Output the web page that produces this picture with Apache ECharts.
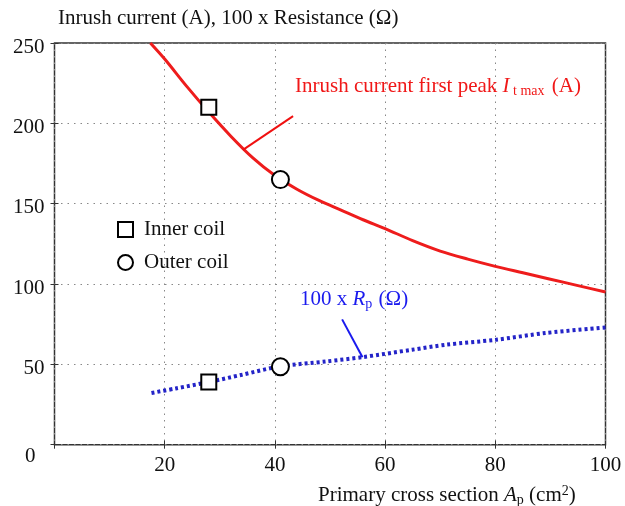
<!DOCTYPE html>
<html>
<head>
<meta charset="utf-8">
<script src="https://cdn.jsdelivr.net/npm/echarts@6/dist/echarts.min.js"></script>
<style>
  html, body { margin: 0; padding: 0; background: #fff; }
  #main { width: 625px; height: 506px; }
</style>
</head>
<body>
<div id="main"></div>
<script>
// values
const xTicks = [0, 20, 40, 60, 80, 100];
const yTicks = [0, 50, 100, 150, 200, 250];

const inrushX = [17.4, 20, 24, 28, 32, 36, 40, 44, 48, 52, 56, 60, 65, 70, 75, 80, 85, 90, 95, 100];
const inrushY = [250, 240, 223, 207, 192, 178.5, 167.5, 159, 152, 146, 140, 134.5, 127, 120.5, 115.5, 111, 107, 103, 99, 95];

const resX = [17.6, 22, 28, 34, 40.9, 49.3, 55.9, 64.9, 71, 80.1, 89.1, 100];
const resY = [32.2, 35, 39, 43.5, 48.7, 51.8, 54.5, 59.1, 62.2, 65.3, 69.5, 73];

const innerCoil = [[28, 210], [28, 39]];
const outerCoil = [[41, 165], [41, 48.5]];

// leader lines for the two annotations (data coords)
const redLeader = [[34.2, 183.5], [43.3, 204.5]];
const blueLeader = [[52.2, 78], [55.9, 54.4]];

const serif = 'Liberation Serif';
const fs = 21;

const chart = echarts.init(document.getElementById('main'));

const option = {
  backgroundColor: '#fff',
  animation: false,
  grid: {
    left: 54.5, right: 19.5, top: 43, bottom: 61.3,
    show: true, borderColor: '#333', borderWidth: 1.5
  },
  title: [{
    text: 'Inrush current (A), 100 x Resistance (Ω)',
    left: 53, top: 3,
    textStyle: { fontFamily: serif, fontSize: fs, fontWeight: 'normal', color: '#111' }
  }, {
    text: 'Primary cross section {i|A}{sub|p} (cm{sup|2})',
    left: 313, top: 479,
    textStyle: {
      fontFamily: serif, fontSize: fs, fontWeight: 'normal', color: '#111',
      rich: {
        i: { fontFamily: serif, fontSize: fs, fontStyle: 'italic', color: '#111' },
        sub: { fontFamily: serif, fontSize: 14, color: '#111', verticalAlign: 'bottom', padding: [9, 0, 0, 0] },
        sup: { fontFamily: serif, fontSize: 14, color: '#111', verticalAlign: 'top', padding: [0, 0, 8, 0] }
      }
    }
  }, {
    text: 'Inrush current first peak {i|I}{sub| t max} (A)',
    left: 290, top: 70,
    textStyle: {
      fontFamily: serif, fontSize: fs, fontWeight: 'normal', color: '#f01818',
      rich: {
        i: { fontFamily: serif, fontSize: fs, fontStyle: 'italic', color: '#f01818' },
        sub: { fontFamily: serif, fontSize: 14, color: '#f01818', verticalAlign: 'bottom', padding: [9, 2, 0, 0] }
      }
    }
  }, {
    text: '100 x {i|R}{sub|p} (Ω)',
    left: 295, top: 283,
    textStyle: {
      fontFamily: serif, fontSize: fs, fontWeight: 'normal', color: '#1a1aee',
      rich: {
        i: { fontFamily: serif, fontSize: fs, fontStyle: 'italic', color: '#1a1aee' },
        sub: { fontFamily: serif, fontSize: 14, color: '#1a1aee', verticalAlign: 'bottom', padding: [9, 1, 0, 0] }
      }
    }
  }],
  legend: {
    orient: 'vertical',
    left: 112, top: 214,
    itemWidth: 15, itemHeight: 15,
    itemGap: 12,
    data: ['Inner coil', 'Outer coil'],
    textStyle: { fontFamily: serif, fontSize: fs, color: '#111', padding: [0, 0, 0, 6] }
  },
  xAxis: [{
    type: 'value', min: xTicks[0], max: xTicks[xTicks.length - 1], interval: 20,
    axisLine: { show: false },
    axisTick: { show: true, inside: true, length: 4, lineStyle: { color: '#333' } },
    splitLine: { show: true, lineStyle: { type: [1.5, 5], color: '#888', width: 1 } },
    axisLabel: {
      margin: 10, fontFamily: serif, fontSize: fs, color: '#111',
      formatter: v => (v === 0 ? '' : String(v))
    }
  }, {
    type: 'value', position: 'top', min: 0, max: 100, interval: 20,
    axisLine: { show: false }, axisLabel: { show: false }, splitLine: { show: false },
    axisTick: { show: true, inside: true, length: 4, lineStyle: { color: '#333' } }
  }],
  yAxis: [{
    type: 'value', min: yTicks[0], max: yTicks[yTicks.length - 1], interval: 50,
    axisLine: { show: false },
    axisTick: { show: true, inside: true, length: 4, lineStyle: { color: '#333' } },
    splitLine: { show: true, lineStyle: { type: [1.5, 5], color: '#888', width: 1 } },
    axisLabel: {
      margin: 10, color: '#111',
      formatter: v => (v === 0 ? '{z|0}' : '{n|' + v + '}'),
      rich: {
        n: { fontFamily: serif, fontSize: fs, color: '#111', padding: [8, 0, 0, 0] },
        z: { fontFamily: serif, fontSize: fs, color: '#111', padding: [24, 9, 0, 0] }
      }
    }
  }, {
    type: 'value', position: 'right', min: 0, max: 250, interval: 50,
    axisLine: { show: false }, axisLabel: { show: false }, splitLine: { show: false },
    axisTick: { show: true, inside: true, length: 4, lineStyle: { color: '#333' } }
  }],
  series: [{
    name: 'Inrush current',
    type: 'line',
    data: inrushX.map((x, i) => [x, inrushY[i]]),
    smooth: 0.3,
    showSymbol: false,
    lineStyle: { color: '#ee1c1c', width: 3 },
    markLine: {
      silent: true, symbol: 'none', label: { show: false },
      lineStyle: { color: '#f01010', width: 2, type: 'solid' },
      data: [[{ coord: redLeader[0] }, { coord: redLeader[1] }]]
    },
    z: 2
  }, {
    name: 'Resistance',
    type: 'line',
    data: resX.map((x, i) => [x, resY[i]]),
    smooth: 0.3,
    showSymbol: false,
    lineStyle: { color: '#2424c8', width: 4, type: [3, 3] },
    markLine: {
      silent: true, symbol: 'none', label: { show: false },
      lineStyle: { color: '#1a1aee', width: 2, type: 'solid' },
      data: [[{ coord: blueLeader[0] }, { coord: blueLeader[1] }]]
    },
    z: 2
  }, {
    name: 'Inner coil',
    type: 'scatter',
    data: innerCoil,
    symbol: 'rect',
    symbolSize: 15,
    itemStyle: { color: '#fff', borderColor: '#000', borderWidth: 2, opacity: 1 },
    z: 5
  }, {
    name: 'Outer coil',
    type: 'scatter',
    data: outerCoil,
    symbol: 'circle',
    symbolSize: 17,
    itemStyle: { color: '#fff', borderColor: '#000', borderWidth: 2, opacity: 1 },
    z: 5
  }]
};

chart.setOption(option);
window.addEventListener('resize', function () {
  chart.resize();
});
</script>
</body>
</html>
